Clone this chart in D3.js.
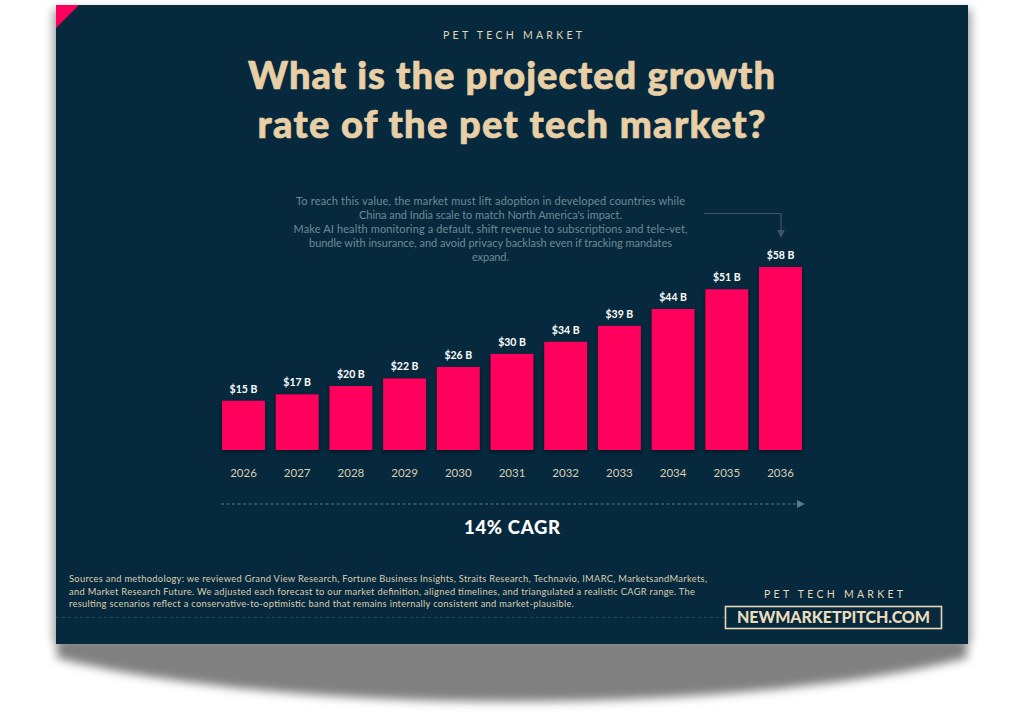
<!DOCTYPE html>
<html>
<head>
<meta charset="utf-8">
<script src="https://cdn.jsdelivr.net/npm/d3@7"></script>
<style>
html,body{margin:0;padding:0;background:#fff;}
svg{display:block;}
text{font-family:Lato,"Noto Sans",sans-serif;}
</style>
</head>
<body>
<div id="chart"></div>
<script>
const years = ["2026","2027","2028","2029","2030","2031","2032","2033","2034","2035","2036"];
const marketValues = [15.49,17.49,20.1,22.49,26.1,30.2,34,39,44.3,50.5,57.5];
const kicker = "PET TECH MARKET";
const titleLines = ["What is the projected growth","rate of the pet tech market?"];
const captionLines = [
  "To reach this value, the market must lift adoption in developed countries while",
  "China and India scale to match North America's impact.",
  "Make AI health monitoring a default, shift revenue to subscriptions and tele-vet,",
  "bundle with insurance, and avoid privacy backlash even if tracking mandates",
  "expand."
];
const captionWidths = [389,263,394,363,37];
const growthLabel = "14% CAGR";
const sourceLines = [
  "Sources and methodology: we reviewed Grand View Research, Fortune Business Insights, Straits Research, Technavio, IMARC, MarketsandMarkets,",
  "and Market Research Future. We adjusted each forecast to our market definition, aligned timelines, and triangulated a realistic CAGR range. The",
  "resulting scenarios reflect a conservative-to-optimistic band that remains internally consistent and market-plausible."
];
const sourceWidths = [638,626,505];
const brand = "NEWMARKETPITCH.COM";

const W = 1024, H = 717;
const card = {x:56,y:5,w:912,h:639};
const svg = d3.select("#chart").append("svg").attr("width",W).attr("height",H).attr("viewBox",`0 0 ${W} ${H}`);
const defs = svg.append("defs");
const blur = (id,s)=>defs.append("filter").attr("id",id)
  .attr("x","-20%").attr("y","-20%").attr("width","140%").attr("height","140%")
  .append("feGaussianBlur").attr("stdDeviation",s);
blur("shadowBlur",5); blur("sideBlur",5); blur("barBlur",1.5);
defs.append("marker").attr("id","head").attr("viewBox","0 0 10 10").attr("refX",9).attr("refY",5)
  .attr("markerWidth",8).attr("markerHeight",8).attr("orient","auto").attr("markerUnits","userSpaceOnUse")
  .append("path").attr("d","M0,0L10,5L0,10Z").attr("fill","#5d7a88");
defs.append("marker").attr("id","headDark").attr("viewBox","0 0 10 10").attr("refX",9).attr("refY",5)
  .attr("markerWidth",8).attr("markerHeight",8).attr("orient","auto").attr("markerUnits","userSpaceOnUse")
  .append("path").attr("d","M0,0L10,5L0,10Z").attr("fill","#3d5661");

// page shadow
svg.append("rect").attr("x",card.x-3).attr("y",card.y+4).attr("width",card.w+6).attr("height",card.h-6)
  .attr("fill","#000").attr("opacity",.38).attr("filter","url(#sideBlur)");
const L = card.x+1, R = card.x+card.w-1, B = card.y+card.h;
const curve = d3.path();
curve.moveTo(L,B-6);
curve.lineTo(L,B+14);
curve.bezierCurveTo(L+230,B+72,R-230,B+72,R,B+14);
curve.lineTo(R,B-6);
curve.closePath();
svg.append("path").attr("d",curve.toString()).attr("fill","#808080").attr("filter","url(#shadowBlur)");

// card
svg.append("rect").attr("x",card.x).attr("y",card.y).attr("width",card.w).attr("height",card.h).attr("fill","#06293d");
svg.append("path").attr("d",d3.line()([[card.x,card.y],[card.x+23,card.y],[card.x,card.y+23]])+"Z").attr("fill","#ff005c");

// headings
svg.append("text").attr("x",512.5).attr("y",39).attr("text-anchor","middle")
  .attr("font-size",10.5).attr("font-weight",400).attr("fill","#e6d6b8")
  .attr("textLength",139).attr("lengthAdjust","spacing").text(kicker);
svg.selectAll(".title").data(titleLines).join("text").attr("class","title")
  .attr("x",511.5).attr("y",(d,i)=>89+i*49).attr("text-anchor","middle")
  .attr("font-size",38).attr("font-weight",900).attr("fill","#e8cfa6")
  .attr("stroke","#e8cfa6").attr("stroke-width",.7)
  .attr("textLength",(d,i)=>[527,508][i]).attr("lengthAdjust","spacing").text(d=>d);

// caption + callout
svg.selectAll(".cap").data(captionLines).join("text").attr("class","cap")
  .attr("x",490.5).attr("y",(d,i)=>205+i*14).attr("text-anchor","middle")
  .attr("font-size",11).attr("fill","#6f8a96")
  .attr("textLength",(d,i)=>captionWidths[i]).attr("lengthAdjust","spacing").text(d=>d);
svg.append("path").attr("d",d3.line()([[704,213.5],[781,213.5],[781,237]]))
  .attr("fill","none").attr("stroke","#3d5661").attr("stroke-width",1.2).attr("marker-end","url(#headDark)");

// bars
const x = d3.scaleBand().domain(years).range([222,802]).paddingInner(.2).paddingOuter(0);
const y = d3.scaleLinear().domain([0,57.5]).range([450,267]);
const bars = svg.append("g");
bars.selectAll(".bs").data(years).join("rect").attr("class","bs")
  .attr("x",d=>x(d)-1).attr("width",x.bandwidth()+2)
  .attr("y",(d,i)=>y(marketValues[i])+1).attr("height",(d,i)=>450-y(marketValues[i])+2)
  .attr("fill","#000").attr("opacity",.3).attr("filter","url(#barBlur)");
bars.selectAll(".bar").data(years).join("rect").attr("class","bar")
  .attr("x",d=>x(d)).attr("width",x.bandwidth())
  .attr("y",(d,i)=>y(marketValues[i])).attr("height",(d,i)=>450-y(marketValues[i]))
  .attr("fill","#ff005c");
bars.selectAll(".val").data(years).join("text").attr("class","val")
  .attr("x",d=>x(d)+x.bandwidth()/2).attr("y",(d,i)=>y(marketValues[i])-8)
  .attr("text-anchor","middle").attr("font-size",10.5).attr("font-weight",700).attr("fill","#fff")
  .text((d,i)=>`$${Math.round(marketValues[i])} B`);

// axis
const axis = svg.append("g").attr("transform","translate(0,466)")
  .call(d3.axisBottom(x).tickSize(0).tickPadding(3));
axis.select(".domain").remove();
axis.selectAll("text").attr("font-size",11.5).attr("font-family","Lato,sans-serif").attr("fill","#d9cdb2");

// growth arrow
svg.append("line").attr("x1",221).attr("x2",804).attr("y1",504).attr("y2",504)
  .attr("stroke","#5d7a88").attr("stroke-width",1).attr("stroke-dasharray","3 2.5").attr("marker-end","url(#head)");
svg.append("text").attr("x",512).attr("y",534).attr("text-anchor","middle")
  .attr("font-size",18.5).attr("font-weight",900).attr("fill","#fff")
  .attr("textLength",96).attr("lengthAdjust","spacing").text(growthLabel);

// sources
svg.selectAll(".src").data(sourceLines).join("text").attr("class","src")
  .attr("x",69).attr("y",(d,i)=>582+i*12.5)
  .attr("font-size",9.3).attr("font-weight",400).attr("fill","#dccfb2")
  .attr("textLength",(d,i)=>sourceWidths[i]).attr("lengthAdjust","spacing").text(d=>d);
svg.append("line").attr("x1",56).attr("x2",725).attr("y1",617.5).attr("y2",617.5)
  .attr("stroke","#5d7a88").attr("stroke-width",.6).attr("stroke-dasharray","3 3").attr("opacity",.7);

// brand
svg.append("text").attr("x",833.5).attr("y",598).attr("text-anchor","middle")
  .attr("font-size",10.5).attr("font-weight",400).attr("fill","#e6d6b8")
  .attr("textLength",139).attr("lengthAdjust","spacing").text(kicker);
svg.append("rect").attr("x",725.5).attr("y",606.5).attr("width",216).attr("height",22)
  .attr("fill","none").attr("stroke","#e6d6b8").attr("stroke-width",1.6);
svg.append("text").attr("x",833.5).attr("y",623).attr("text-anchor","middle")
  .attr("font-size",16).attr("font-weight",900).attr("fill","#eadbbc")
  .attr("textLength",193).attr("lengthAdjust","spacing").text(brand);
</script>
</body>
</html>
